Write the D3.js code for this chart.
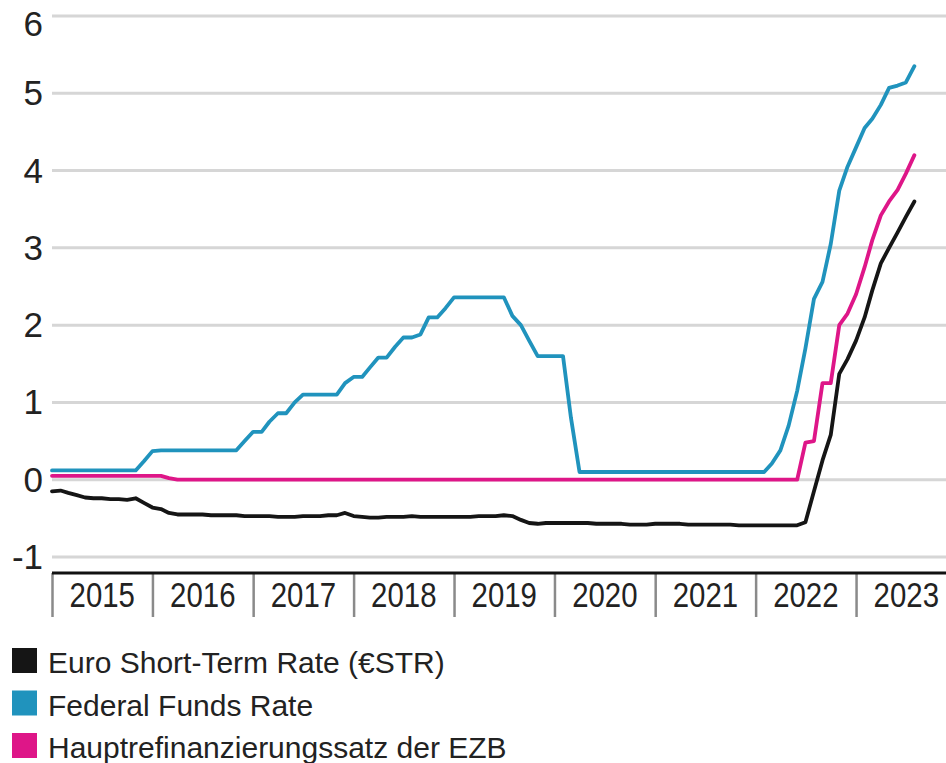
<!DOCTYPE html>
<html>
<head>
<meta charset="utf-8">
<script src="https://cdn.jsdelivr.net/npm/d3@7"></script>
<style>
	body { margin: 0; background: #fff; }
	svg { display: block; font-family: "Liberation Sans", Arial, sans-serif; }
</style>
</head>
<body>
<svg id="chart" width="946" height="763"></svg>
<script>
// monthly values, Jan 2015 .. Aug 2023
var startMonth = "2015-01";
var years = ["2015", "2016", "2017", "2018", "2019", "2020", "2021", "2022", "2023"];
var yTicks = [-1, 0, 1, 2, 3, 4, 5, 6];

var estr = [
	-0.15, -0.14, -0.17, -0.20, -0.23, -0.24, -0.24, -0.25, -0.25, -0.26, -0.24, -0.30,
	-0.36, -0.38, -0.43, -0.45, -0.45, -0.45, -0.45, -0.46, -0.46, -0.46, -0.46, -0.47,
	-0.47, -0.47, -0.47, -0.48, -0.48, -0.48, -0.47, -0.47, -0.47, -0.46, -0.46, -0.43,
	-0.47, -0.48, -0.49, -0.49, -0.48, -0.48, -0.48, -0.47, -0.48, -0.48, -0.48, -0.48,
	-0.48, -0.48, -0.48, -0.47, -0.47, -0.47, -0.46, -0.47, -0.52, -0.56, -0.57, -0.56,
	-0.56, -0.56, -0.56, -0.56, -0.56, -0.57, -0.57, -0.57, -0.57, -0.58, -0.58, -0.58,
	-0.57, -0.57, -0.57, -0.57, -0.58, -0.58, -0.58, -0.58, -0.58, -0.58, -0.59, -0.59,
	-0.59, -0.59, -0.59, -0.59, -0.59, -0.59, -0.55, -0.15, 0.25, 0.58, 1.37, 1.56,
	1.80, 2.10, 2.45, 2.80, 3.00, 3.20, 3.40, 3.60
];

var fedFunds = [
	0.12, 0.12, 0.12, 0.12, 0.12, 0.12, 0.12, 0.12, 0.12, 0.12, 0.12, 0.24,
	0.37, 0.38, 0.38, 0.38, 0.38, 0.38, 0.38, 0.38, 0.38, 0.38, 0.38, 0.50,
	0.62, 0.62, 0.75, 0.86, 0.86, 1.00, 1.10, 1.10, 1.10, 1.10, 1.10, 1.25,
	1.33, 1.33, 1.45, 1.58, 1.58, 1.72, 1.84, 1.84, 1.88, 2.10, 2.10, 2.22,
	2.36, 2.36, 2.36, 2.36, 2.36, 2.36, 2.36, 2.12, 2.00, 1.80, 1.60, 1.60,
	1.60, 1.60, 0.80, 0.10, 0.10, 0.10, 0.10, 0.10, 0.10, 0.10, 0.10, 0.10,
	0.10, 0.10, 0.10, 0.10, 0.10, 0.10, 0.10, 0.10, 0.10, 0.10, 0.10, 0.10,
	0.10, 0.10, 0.21, 0.38, 0.70, 1.15, 1.70, 2.34, 2.56, 3.05, 3.74, 4.05,
	4.30, 4.55, 4.67, 4.85, 5.07, 5.10, 5.14, 5.35
];

var ezbRate = [
	0.05, 0.05, 0.05, 0.05, 0.05, 0.05, 0.05, 0.05, 0.05, 0.05, 0.05, 0.05,
	0.05, 0.05, 0.02, 0, 0, 0, 0, 0, 0, 0, 0, 0,
	0, 0, 0, 0, 0, 0, 0, 0, 0, 0, 0, 0,
	0, 0, 0, 0, 0, 0, 0, 0, 0, 0, 0, 0,
	0, 0, 0, 0, 0, 0, 0, 0, 0, 0, 0, 0,
	0, 0, 0, 0, 0, 0, 0, 0, 0, 0, 0, 0,
	0, 0, 0, 0, 0, 0, 0, 0, 0, 0, 0, 0,
	0, 0, 0, 0, 0, 0, 0.48, 0.50, 1.25, 1.25, 2.00, 2.15,
	2.40, 2.75, 3.10, 3.42, 3.60, 3.75, 3.96, 4.20
];

var seriesNames = ["Euro Short-Term Rate (€STR)", "Federal Funds Rate", "Hauptrefinanzierungssatz der EZB"];
var seriesColors = ["#151515", "#2093bd", "#de1688"];

var svg = d3.select("#chart");
var parseMonth = d3.timeParse("%Y-%m");
var t0 = parseMonth(startMonth);

var x = d3.scaleTime()
	.domain([new Date(2015, 0, 1), new Date(2024, 0, 1)])
	.range([52, 956.5]);
var y = d3.scaleLinear()
	.domain([-1, 6])
	.range([557, 16]);

// grid lines
svg.append("g")
	.selectAll("line")
	.data(yTicks)
	.join("line")
	.attr("x1", 52).attr("x2", 946)
	.attr("y1", function (d) { return y(d); })
	.attr("y2", function (d) { return y(d); })
	.attr("stroke", "#d6d6d6")
	.attr("stroke-width", 3);

// y labels (hyphen minus like the original)
svg.append("g")
	.selectAll("text")
	.data(yTicks)
	.join("text")
	.attr("x", 43)
	.attr("y", function (d) { return Math.max(y(d) + 12, 36); })
	.attr("text-anchor", "end")
	.attr("font-size", 35)
	.attr("fill", "#222")
	.text(function (d) { return String(d); });

// x axis: baseline, year separators, labels
var yearStarts = years.map(function (yr) { return new Date(+yr, 0, 1); });
var xAxis = d3.axisBottom(x)
	.tickValues(yearStarts)
	.tickSize(44)
	.tickFormat("");
svg.append("g")
	.attr("transform", "translate(0,573)")
	.call(xAxis)
	.call(function (g) {
		g.select(".domain").remove();
		g.selectAll(".tick line").attr("stroke", "#8a8a8a").attr("stroke-width", 2.5);
	});
svg.append("line")
	.attr("x1", 52).attr("x2", 946)
	.attr("y1", 573).attr("y2", 573)
	.attr("stroke", "#111")
	.attr("stroke-width", 3);

// narrow year labels, centred in each year band
svg.append("g")
	.selectAll("text")
	.data(years)
	.join("text")
	.attr("transform", function (d) {
		var cx = (x(new Date(+d, 0, 1)) + x(new Date(+d + 1, 0, 1))) / 2;
		return "translate(" + cx + ",607) scale(0.84,1)";
	})
	.attr("text-anchor", "middle")
	.attr("font-size", 35)
	.attr("fill", "#222")
	.text(function (d) { return d; });

// lines
var line = d3.line()
	.x(function (d, i) { return x(d3.timeMonth.offset(t0, i)); })
	.y(function (d) { return y(d); });

var drawOrder = [0, 2, 1];
drawOrder.forEach(function (idx) {
	var values = [estr, fedFunds, ezbRate][idx];
	svg.append("path")
		.datum(values)
		.attr("fill", "none")
		.attr("stroke", seriesColors[idx])
		.attr("stroke-width", 3.8)
		.attr("stroke-linejoin", "round")
		.attr("stroke-linecap", "round")
		.attr("d", line);
});

// legend
var legend = svg.append("g")
	.selectAll("g")
	.data(seriesNames)
	.join("g")
	.attr("transform", function (d, i) { return "translate(12," + (648 + i * 42.5) + ")"; });
legend.append("rect")
	.attr("width", 25).attr("height", 25)
	.attr("fill", function (d, i) { return seriesColors[i]; });
legend.append("text")
	.attr("x", 36)
	.attr("y", 25)
	.attr("font-size", 30)
	.attr("fill", "#222")
	.text(function (d) { return d; });
</script>
</body>
</html>
